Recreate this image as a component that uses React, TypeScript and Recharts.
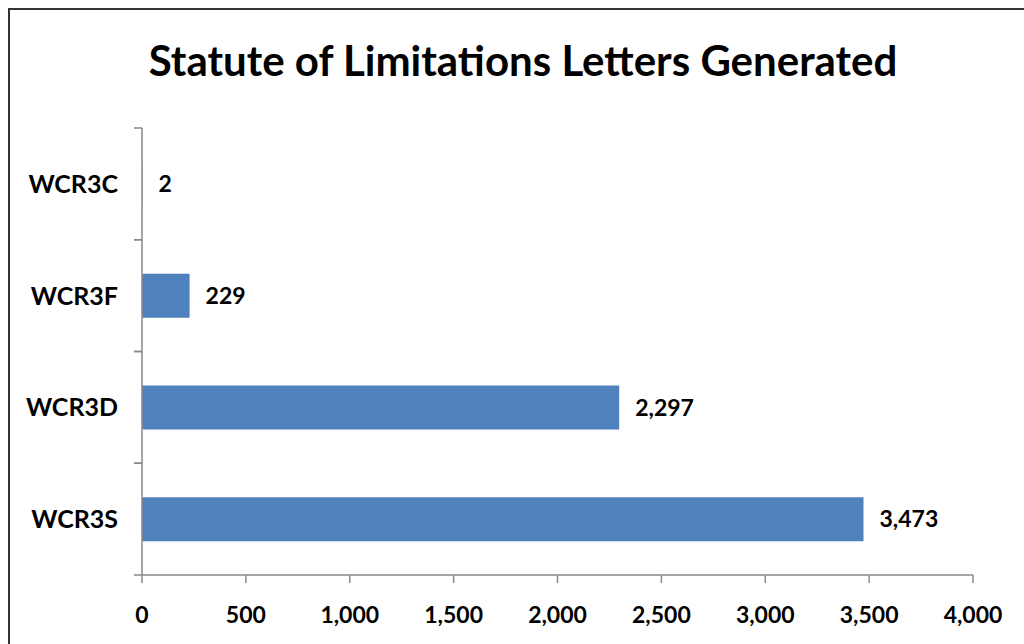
import React from 'react';
import { BarChart, Bar, XAxis, YAxis, LabelList } from 'recharts';

const categories = ['WCR3C', 'WCR3F', 'WCR3D', 'WCR3S'];
const letters = [2, 229, 2297, 3473];
const xTicks = [0, 500, 1000, 1500, 2000, 2500, 3000, 3500, 4000];

const data = categories.map((name, i) => ({ name, value: letters[i] }));

const W = 1024;
const H = 644;
const PLOT_TOP = 128;
const PLOT_BOTTOM = 575;
const BAND = (PLOT_BOTTOM - PLOT_TOP) / categories.length;
const AXIS = '#888888';
const FONT = 'Lato, "Open Sans", sans-serif';

const fmt = (v: number) => v.toLocaleString('en-US');

function CategoryTick(props: any) {
  const { x, y, payload } = props;
  const ax = x + 8;
  return (
    <g>
      <line x1={ax - 8} x2={ax} y1={y - BAND / 2} y2={y - BAND / 2} stroke={AXIS} strokeWidth={1.5} />
      <line x1={ax - 8} x2={ax} y1={y + BAND / 2} y2={y + BAND / 2} stroke={AXIS} strokeWidth={1.5} />
      <text x={ax - 24} y={y} dy={9} textAnchor="end" fontSize={25} fontWeight={700} fill="#000" fontFamily={FONT}>
        {payload.value}
      </text>
    </g>
  );
}

export default function App() {
  return (
    <div style={{ position: 'absolute', left: 0, top: 0, width: W, height: H, overflow: 'hidden', background: '#fff' }}>
      <div
        style={{
          position: 'absolute',
          left: 8,
          top: 8,
          width: W + 20,
          height: H + 20,
          border: '2.5px solid #333',
          boxSizing: 'border-box',
        }}
      />
      <div
        style={{
          position: 'absolute',
          left: 2,
          top: 35,
          width: 1042,
          textAlign: 'center',
          fontFamily: FONT,
          fontWeight: 700,
          fontSize: 42,
          lineHeight: '50px',
          color: '#000',
        }}
      >
        Statute of Limitations Letters Generated
      </div>
      <BarChart
        width={W}
        height={H}
        data={data}
        layout="vertical"
        margin={{ top: PLOT_TOP, right: 51, left: 0, bottom: 0 }}
        barSize={44}
        style={{ position: 'absolute', left: 0, top: 0 }}
      >
        <XAxis
          type="number"
          domain={[0, 4000]}
          ticks={xTicks}
          tickFormatter={fmt}
          height={H - PLOT_BOTTOM}
          tickSize={8}
          tickMargin={24}
          axisLine={{ stroke: AXIS, strokeWidth: 1.5 }}
          tickLine={{ stroke: AXIS, strokeWidth: 1.5 }}
          tick={{ fill: '#000', fontSize: 23, fontWeight: 700, fontFamily: FONT }}
          interval={0}
        />
        <YAxis
          type="category"
          dataKey="name"
          width={142}
          axisLine={{ stroke: AXIS, strokeWidth: 1.5 }}
          tickLine={false}
          tick={<CategoryTick />}
          interval={0}
        />
        <Bar dataKey="value" fill="#4F81BD" isAnimationActive={false}>
          <LabelList
            dataKey="value"
            position="right"
            offset={16}
            formatter={(v: any) => fmt(Number(v))}
            style={{ fill: '#000', fontSize: 23, fontWeight: 700, fontFamily: FONT }}
          />
        </Bar>
      </BarChart>
    </div>
  );
}
